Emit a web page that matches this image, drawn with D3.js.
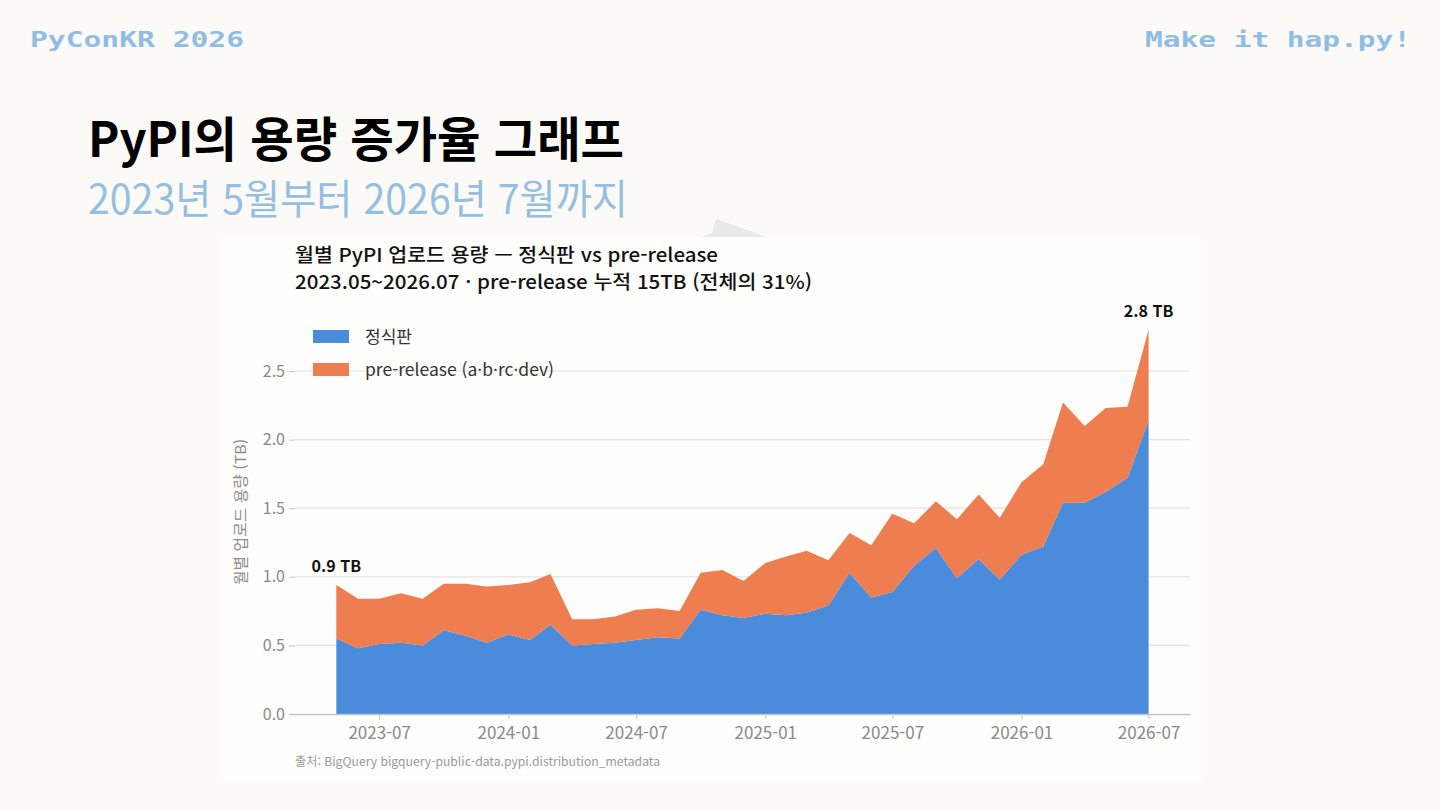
<!DOCTYPE html>
<html lang="ko">
<head>
<meta charset="UTF-8">
<title>PyPI 용량 증가율</title>
<style>
  html, body { margin: 0; padding: 0; background: #fbfaf6; }
  svg { display: block; }
  .cjk { font-family: "Noto Sans CJK KR", "Noto Sans", sans-serif; }
  .pix { font-family: "DejaVu Sans Mono", monospace; font-weight: bold; }
  .axis text { font-family: "Noto Sans CJK KR", "Noto Sans", sans-serif; fill: #8a8a8a; }
  .axis line, .axis path { stroke: #c4c4c4; }
</style>
</head>
<body>
<script src="https://cdnjs.cloudflare.com/ajax/libs/d3/7.8.5/d3.min.js"></script>
<script>
// monthly upload volume (TB)
const months = ["2023-05","2023-06","2023-07","2023-08","2023-09","2023-10","2023-11","2023-12",
  "2024-01","2024-02","2024-03","2024-04","2024-05","2024-06","2024-07","2024-08","2024-09","2024-10",
  "2024-11","2024-12","2025-01","2025-02","2025-03","2025-04","2025-05","2025-06","2025-07","2025-08",
  "2025-09","2025-10","2025-11","2025-12","2026-01","2026-02","2026-03","2026-04","2026-05","2026-06","2026-07"];
const stable = [0.55,0.48,0.51,0.52,0.50,0.61,0.57,0.52,0.58,0.54,0.65,0.50,0.51,0.52,0.54,0.56,0.55,0.76,
  0.72,0.70,0.73,0.72,0.74,0.79,1.03,0.85,0.89,1.08,1.21,0.99,1.13,0.98,1.16,1.22,1.54,1.54,1.62,1.72,2.14];
const prerelease = [0.39,0.36,0.33,0.36,0.34,0.34,0.38,0.41,0.36,0.42,0.37,0.19,0.18,0.19,0.22,0.21,0.20,0.27,
  0.33,0.27,0.37,0.43,0.45,0.33,0.29,0.38,0.57,0.31,0.34,0.43,0.47,0.45,0.53,0.60,0.73,0.56,0.61,0.52,0.66];
const xTicks = ["2023-07","2024-01","2024-07","2025-01","2025-07","2026-01","2026-07"];
const yTicks = [0, 0.5, 1.0, 1.5, 2.0, 2.5];
const seriesNames = ["정식판", "pre-release (a·b·rc·dev)"];

const W = 1440, H = 810;
const blue = "#4a8bdb", orange = "#ee7d4f";
const parseMonth = d3.timeParse("%Y-%m");

const svg = d3.select("body").append("svg").attr("width", W).attr("height", H);
svg.append("rect").attr("width", W).attr("height", H).attr("fill", "#fbfaf6");

// squeeze/stretch a text node to a measured width
function fit(sel, w) {
  sel.attr("textLength", w).attr("lengthAdjust", "spacingAndGlyphs");
  return sel;
}

// slide header
svg.append("text").attr("class", "pix").attr("x", 30).attr("y", 47)
  .attr("font-size", 22).attr("fill", "#90bde3").text("PyConKR 2026").call(fit, 214);
svg.append("text").attr("class", "pix").attr("x", 1145).attr("y", 47)
  .attr("font-size", 22).attr("fill", "#90bde3").text("Make it hap.py!").call(fit, 266);

svg.append("text").attr("class", "cjk").attr("x", 88).attr("y", 157)
  .attr("font-size", 48).attr("font-weight", 700).attr("fill", "#000")
  .text("PyPI의 용량 증가율 그래프").call(fit, 536);
svg.append("text").attr("class", "cjk").attr("x", 88).attr("y", 214)
  .attr("font-size", 41).attr("font-weight", 400).attr("fill", "#95bfe2")
  .text("2023년 5월부터 2026년 7월까지").call(fit, 540);

// little grey shape peeking behind the chart card
svg.append("polygon").attr("points", "698,238 712,233 716,219 770,238").attr("fill", "#e9e9e7");

// chart card
svg.append("rect").attr("x", 220).attr("y", 237).attr("width", 981).attr("height", 543).attr("fill", "#fdfdfc");

svg.append("text").attr("class", "cjk").attr("x", 295).attr("y", 262)
  .attr("font-size", 19).attr("font-weight", 500).attr("fill", "#111")
  .text("월별 PyPI 업로드 용량 — 정식판 vs pre-release").call(fit, 423);
svg.append("text").attr("class", "cjk").attr("x", 295).attr("y", 289)
  .attr("font-size", 19).attr("font-weight", 500).attr("fill", "#111")
  .text("2023.05~2026.07 · pre-release 누적 15TB (전체의 31%)").call(fit, 517);

// scales
const dates = months.map(parseMonth);
const x = d3.scaleTime()
  .domain([d3.timeDay.offset(dates[0], -66), d3.timeDay.offset(dates[dates.length - 1], 59)])
  .range([290, 1190]);
const y = d3.scaleLinear().domain([0, 2.5]).range([714, 371]);

// grid
svg.append("g").selectAll("line").data(yTicks.slice(1)).join("line")
  .attr("x1", 295).attr("x2", 1190)
  .attr("y1", d => y(d)).attr("y2", d => y(d))
  .attr("stroke", "#e3e3e3").attr("stroke-width", 1.2);

// stacked areas
const rows = months.map((m, i) => ({ date: dates[i], stable: stable[i], pre: prerelease[i] }));
const stack = d3.stack().keys(["stable", "pre"]);
const layers = stack(rows);
const area = d3.area()
  .x(d => x(d.data.date))
  .y0(d => y(d[0]))
  .y1(d => y(d[1]));
svg.append("g").selectAll("path").data(layers).join("path")
  .attr("d", area)
  .attr("fill", (d, i) => i === 0 ? blue : orange);

// axes
const xAxis = d3.axisBottom(x)
  .tickValues(xTicks.map(parseMonth))
  .tickFormat(d3.timeFormat("%Y-%m"))
  .tickSize(5).tickSizeOuter(0).tickPadding(8);
const gx = svg.append("g").attr("class", "axis").attr("transform", "translate(0,714)").call(xAxis);
gx.selectAll("text").attr("font-size", 17);
gx.select(".domain").attr("stroke", "#c8c8c8").attr("stroke-width", 1.3);

const yAxis = d3.axisLeft(y).tickValues(yTicks).tickFormat(d3.format(".1f"))
  .tickSize(6).tickPadding(4);
const gy = svg.append("g").attr("class", "axis").attr("transform", "translate(295,0)").call(yAxis);
gy.select(".domain").remove();
gy.selectAll("text").attr("font-size", 16);

svg.append("text").attr("class", "cjk")
  .attr("transform", "translate(246,512) rotate(-90)")
  .attr("text-anchor", "middle").attr("font-size", 15).attr("fill", "#8c8c8c")
  .text("월별 업로드 용량 (TB)").call(fit, 146);

// legend
const legend = svg.append("g").attr("transform", "translate(313,330)");
const li = legend.selectAll("g").data(seriesNames).join("g")
  .attr("transform", (d, i) => `translate(0,${i * 33})`);
li.append("rect").attr("width", 36).attr("height", 13)
  .attr("fill", (d, i) => i === 0 ? blue : orange);
li.append("text").attr("class", "cjk").attr("x", 52).attr("y", 13)
  .attr("font-size", 17).attr("fill", "#333").text(d => d)
  .each(function (d, i) { d3.select(this).call(fit, i === 0 ? 47 : 189); });

// first / last total labels
const totals = rows.map(r => r.stable + r.pre);
const ends = [0, rows.length - 1];
svg.append("g").selectAll("text").data(ends).join("text")
  .attr("class", "cjk")
  .attr("x", i => x(rows[i].date))
  .attr("y", i => y(totals[i]) - 13)
  .attr("text-anchor", "middle").attr("font-size", 16).attr("font-weight", 600).attr("fill", "#111")
  .text(i => d3.format(".1f")(totals[i]) + " TB");

svg.append("text").attr("class", "cjk").attr("x", 295).attr("y", 766)
  .attr("font-size", 12).attr("fill", "#9a9a9a")
  .text("출처: BigQuery bigquery-public-data.pypi.distribution_metadata").call(fit, 365);
</script>
</body>
</html>
